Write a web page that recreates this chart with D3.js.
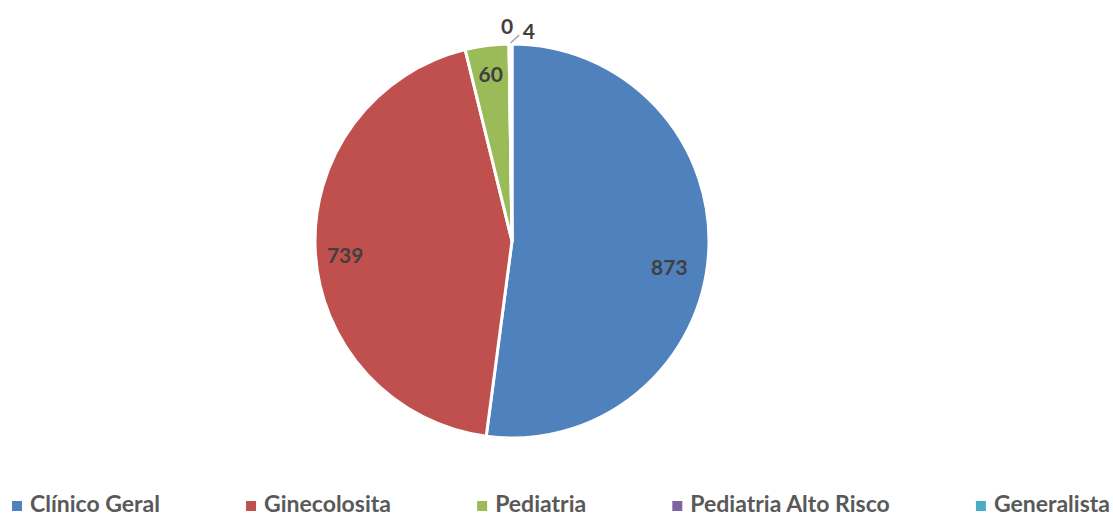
<!DOCTYPE html>
<html><head><meta charset="utf-8">
<script src="https://cdn.jsdelivr.net/npm/d3@7"></script>
<style>body{margin:0;background:#fff;}svg{display:block;}</style>
</head><body>
<svg id="c" width="1113" height="518"></svg>
<script>
const categories = ["Clínico Geral", "Ginecolosita", "Pediatria", "Pediatria Alto Risco", "Generalista"];
const values = [873, 739, 60, 0, 4];
const colors = ["#4F81BD", "#C0504D", "#9BBB59", "#8064A2", "#4BACC6"];

const svg = d3.select("#c");
const W = 1113, cx = 512, cy = 241, R = 197;
const font = "Lato, 'Open Sans', sans-serif";

const pie = d3.pie().sort(null).value(d => d)(values);
const arc = d3.arc().innerRadius(0).outerRadius(R);
const g = svg.append("g").attr("transform", `translate(${cx},${cy})`);

g.selectAll("path").data(pie).enter().append("path")
  .attr("d", arc)
  .attr("fill", (d, i) => colors[i])
  .attr("stroke", "#fff").attr("stroke-width", 3).attr("stroke-linejoin", "round");

// labels
function polar(a, r) { return [r * Math.sin(a), -r * Math.cos(a)]; }
pie.forEach((d, i) => {
  const mid = (d.startAngle + d.endAngle) / 2;
  let p;
  const frac = (d.endAngle - d.startAngle) / (2 * Math.PI);
  if (frac > 0.02) {
    const rf = i === 0 ? 0.81 : 0.85;
    const off = i === 0 ? 0.1 : (i === 1 ? -0.03 : 0);
    p = polar(mid + off, R * rf);
  } else if (d.value === 0) {
    p = polar(d.startAngle - 0.008, R + 18);
  } else {
    p = polar(mid + 0.088, R + 13);
    const a0 = polar(mid, R + 1), a1 = polar(mid + 0.042, R + 9);
    g.append("line").attr("x1", a0[0]).attr("y1", a0[1]).attr("x2", a1[0]).attr("y2", a1[1])
      .attr("stroke", "#A6A6A6").attr("stroke-width", 1.5);
  }
  g.append("text").attr("x", p[0]).attr("y", p[1]).attr("dy", "0.36em")
    .attr("text-anchor", "middle")
    .attr("font-family", font).attr("font-weight", "bold").attr("font-size", 21)
    .attr("fill", "#404040").text(values[i]);
});

// legend
const leg = svg.append("g");
const items = leg.selectAll("g").data(categories).enter().append("g");
items.append("rect").attr("width", 10).attr("height", 10).attr("y", -11)
  .attr("fill", (d, i) => colors[i]);
items.append("text").attr("x", 18).attr("y", 0)
  .attr("font-family", font).attr("font-weight", "bold").attr("font-size", 23)
  .attr("fill", "#595959").text(d => d);
let widths = [];
items.each(function () { widths.push(18 + this.querySelector("text").getComputedTextLength()); });
const x0 = 12, x1 = 1110;
const gap = (x1 - x0 - d3.sum(widths)) / (widths.length - 1);
let x = x0;
items.each(function (d, i) {
  d3.select(this).attr("transform", `translate(${x},512)`);
  x += widths[i] + gap;
});
</script>
</body></html>
